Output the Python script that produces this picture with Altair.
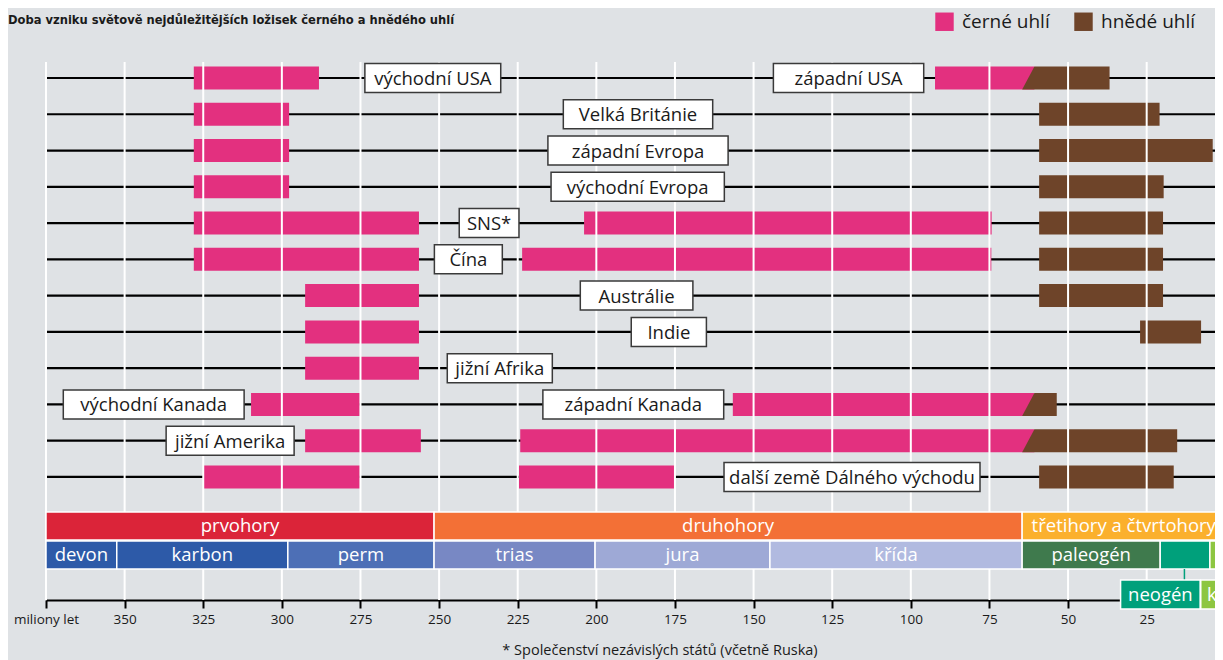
import altair as alt
import pandas as pd

# ---------------- data (millions of years ago) ----------------
rows = ["USA", "Velká Británie", "západní Evropa", "východní Evropa", "SNS*", "Čína",
        "Austrálie", "Indie", "jižní Afrika", "Kanada", "jižní Amerika",
        "další země Dálného východu"]

# černé uhlí (black coal) segments
black_row = [0, 0, 1, 2, 3, 4, 4, 5, 5, 6, 7, 8, 9, 9, 10, 10, 11, 11]
black_start = [328.0, 92.3, 328.0, 328.0, 328.0, 328.0, 203.9, 328.0, 223.6, 292.6,
               292.6, 292.6, 309.8, 156.6, 292.6, 224.2, 324.8, 224.6]
black_end = [288.2, 60.7, 297.7, 297.7, 297.7, 256.4, 74.3, 256.4, 74.4, 256.4,
             256.4, 256.4, 275.2, 60.7, 255.8, 60.7, 275.2, 175.3]

# hnědé uhlí (brown coal) segments
brown_row = [1, 2, 3, 4, 5, 6, 7, 11]
brown_start = [59.2, 59.2, 59.2, 59.2, 59.2, 59.2, 27.1, 59.2]
brown_end = [20.9, 4.0, 19.6, 19.8, 19.8, 19.8, 7.7, 16.4]

# gradual transition black -> brown (slanted edge)
slant_row = [0, 9, 10]
slant_top = [60.7, 60.7, 60.7]
slant_bottom = [64.6, 64.6, 64.6]
slant_end = [36.8, 53.6, 15.3]

# region labels (row, text, box extent in Ma)
label_text = ["východní USA", "západní USA", "Velká Británie", "západní Evropa",
              "východní Evropa", "SNS*", "Čína", "Austrálie", "Indie", "jižní Afrika",
              "východní Kanada", "západní Kanada", "jižní Amerika",
              "další země Dálného východu"]
label_row = [0, 0, 1, 2, 3, 4, 5, 6, 7, 8, 9, 9, 10, 11]
label_from = [273.6, 143.7, 210.5, 215.4, 214.4, 243.6, 251.5, 205.1, 188.9, 247.4,
              369.5, 217.0, 336.8, 159.4]
label_to = [230.4, 95.9, 163.0, 158.1, 159.3, 224.6, 229.9, 169.3, 165.0, 214.0,
            312.0, 159.5, 296.1, 78.0]

# geological eras and periods
era_names = ["prvohory", "druhohory", "třetihory a čtvrtohory"]
era_start = [375.0, 251.6, 64.6]
era_end = [251.6, 64.6, -5.0]

period_names = ["devon", "karbon", "perm", "trias", "jura", "křída", "paleogén",
                "neogén", "kvartér"]
period_start = [375.0, 352.5, 298.1, 251.6, 200.4, 144.8, 64.6, 20.7, 4.9]
period_end = [352.5, 298.1, 251.6, 200.4, 144.8, 64.6, 20.7, 4.9, -5.0]

tick_values = [375, 350, 325, 300, 275, 250, 225, 200, 175, 150, 125, 100, 75, 50, 25, 0]

coal_types = ["černé uhlí", "hnědé uhlí"]
subtitle = "Doba vzniku světově nejdůležitějších ložisek černého a hnědého uhlí"
footnote = "* Společenství nezávislých států (včetně Ruska)"

# ---------------- styles ----------------
PINK, BROWN = "#E3307F", "#6E4429"
era_colors = ["#DB2439", "#F37036", "#FBB02D"]
period_colors = ["#2D5AA8", "#2D5AA8", "#4D6FB6", "#7888C4", "#9EA9D6", "#B1BAE0",
                 "#3F7A4D", "#00A07B", "#8DC641"]
BG = "#DFE2E5"
FONT = "Open Sans"
TXT = "#1a1a1a"
LABEL_SIZE = 18.5

# layout in "row units" (1 row = 36.27 px)
ROW_PX = 36.27
PLOT_W, PLOT_H = 1169, 562
Y_TOP = -40 / ROW_PX
Y_BOT = 522 / ROW_PX
GRID_TOP = -16 / ROW_PX
BAR_HALF = 11.5 / ROW_PX
BOX_HALF = 14.5 / ROW_PX
ERA_Y = (434 / ROW_PX, 462 / ROW_PX)
PER_Y = (463 / ROW_PX, 491 / ROW_PX)
SUB_Y = (502 / ROW_PX, 531 / ROW_PX)

X = alt.Scale(domain=[375, 0], range=[0, 1179.3], nice=False, zero=False)
Y = alt.Scale(domain=[Y_TOP, Y_BOT], reverse=True, nice=False, zero=False)
AX = alt.Axis(values=tick_values, title=None, grid=False,
              labelExpr="datum.value == 375 ? 'miliony let' : datum.label",
              domainColor="black", domainWidth=2, tickColor="black", tickWidth=2,
              tickSize=8, labelFontSize=13.5, labelFont=FONT, labelColor=TXT,
              labelPadding=4, labelFlush=False, labelOverlap=False)

# ---------------- tables ----------------
bars = pd.DataFrame({
    "row": black_row + brown_row,
    "start": black_start + brown_start,
    "end": black_end + brown_end,
    "typ": [coal_types[0]] * len(black_row) + [coal_types[1]] * len(brown_row),
})
bars["y0"] = bars["row"] - BAR_HALF
bars["y1"] = bars["row"] + BAR_HALF

# brown trapezoids for the slanted transitions (vertical area: x dimension, y..y2 extent)
area_recs = []
for r, t, b, e in zip(slant_row, slant_top, slant_bottom, slant_end):
    bot = r + BAR_HALF
    top = r - BAR_HALF
    area_recs.append({"row": r, "x": b, "y": bot, "y2": bot, "typ": coal_types[1]})
    area_recs.append({"row": r, "x": t, "y": top, "y2": bot, "typ": coal_types[1]})
    area_recs.append({"row": r, "x": e, "y": top, "y2": bot, "typ": coal_types[1]})
area_df = pd.DataFrame(area_recs)

rowlines = pd.DataFrame({"row": list(range(len(rows))), "x": 375, "x2": 0})
grid = pd.DataFrame({"x": tick_values, "y0": GRID_TOP, "y1": Y_BOT})

labels = pd.DataFrame({"text": label_text, "row": label_row, "a": label_from, "b": label_to})
labels["mid"] = (labels["a"] + labels["b"]) / 2
labels["y0"] = labels["row"] - BOX_HALF
labels["y1"] = labels["row"] + BOX_HALF

eras = pd.DataFrame({"name": era_names, "a": era_start, "b": era_end, "col": era_colors})
eras["mid"] = (eras["a"] + eras["b"].clip(lower=0)) / 2
eras["y0"], eras["y1"], eras["yc"] = ERA_Y[0], ERA_Y[1], sum(ERA_Y) / 2

periods = pd.DataFrame({"name": period_names, "a": period_start, "b": period_end,
                        "col": period_colors})
periods["mid"] = (periods["a"] + periods["b"]) / 2
periods["y0"], periods["y1"], periods["yc"] = PER_Y[0], PER_Y[1], sum(PER_Y) / 2
in_band = periods[~periods["name"].isin(["neogén", "kvartér"])]

# short periods are labelled in boxes below the band
small = pd.DataFrame({
    "name": ["neogén", "kvartér"],
    "a": [33.3, 7.8], "b": [8.0, -12.0],
    "conn": [13.0, 2.7],
    "tx": [20.65, 5.8],
    "col": ["#00A07B", "#8DC641"],
    "align": ["center", "left"],
})
small["y0"], small["y1"], small["yc"] = SUB_Y[0], SUB_Y[1], sum(SUB_Y) / 2
small["c0"], small["c1"] = PER_Y[1], SUB_Y[0]

# ---------------- layers ----------------
bx = dict(scale=X, axis=AX)
YA = dict(scale=Y, axis=None)
coal_scale = alt.Scale(domain=coal_types, range=[PINK, BROWN])

l_rowlines = alt.Chart(rowlines).mark_rule(color="black", strokeWidth=2.2).encode(
    x=alt.X("x:Q", **bx), x2="x2:Q", y=alt.Y("row:Q", **YA))

l_bars = alt.Chart(bars).mark_rect(opacity=1).encode(
    x=alt.X("start:Q", **bx), x2="end:Q",
    y=alt.Y("y0:Q", **YA), y2="y1:Q",
    color=alt.Color("typ:N", scale=coal_scale,
                    legend=alt.Legend(title=None, orient="none", legendX=889, legendY=-26,
                                      direction="horizontal", symbolType="square",
                                      symbolSize=340, symbolStrokeWidth=0, symbolOpacity=1,
                                      labelFontSize=19, labelFont=FONT, labelColor=TXT,
                                      labelOffset=8, columnPadding=24, padding=0)))

l_area = alt.Chart(area_df).mark_area(opacity=1, interpolate="linear").encode(
    x=alt.X("x:Q", **bx),
    y=alt.Y("y:Q", **YA), y2="y2:Q",
    detail="row:N",
    color=alt.Color("typ:N", scale=coal_scale, legend=None))

l_grid = alt.Chart(grid).mark_rule(color="white", strokeWidth=2).encode(
    x=alt.X("x:Q", **bx), y=alt.Y("y0:Q", **YA), y2="y1:Q")

l_eras = alt.Chart(eras).mark_rect(stroke="white", strokeWidth=1.5).encode(
    x=alt.X("a:Q", **bx), x2="b:Q", y=alt.Y("y0:Q", **YA), y2="y1:Q",
    fill=alt.Fill("col:N", scale=None))

l_periods = alt.Chart(periods).mark_rect(stroke="white", strokeWidth=1.5).encode(
    x=alt.X("a:Q", **bx), x2="b:Q", y=alt.Y("y0:Q", **YA), y2="y1:Q",
    fill=alt.Fill("col:N", scale=None))

l_conn = alt.Chart(small).mark_rule(strokeWidth=1.5).encode(
    x=alt.X("conn:Q", **bx), y=alt.Y("c0:Q", **YA), y2="c1:Q",
    stroke=alt.Stroke("col:N", scale=None))

l_small = alt.Chart(small).mark_rect(stroke="white", strokeWidth=1.5).encode(
    x=alt.X("a:Q", **bx), x2="b:Q", y=alt.Y("y0:Q", **YA), y2="y1:Q",
    fill=alt.Fill("col:N", scale=None))

band_txt = dict(color="white", font=FONT, fontSize=LABEL_SIZE, baseline="middle")
l_era_txt = alt.Chart(eras).mark_text(align="center", **band_txt).encode(
    x=alt.X("mid:Q", **bx), y=alt.Y("yc:Q", **YA), text="name:N")
l_per_txt = alt.Chart(in_band).mark_text(align="center", **band_txt).encode(
    x=alt.X("mid:Q", **bx), y=alt.Y("yc:Q", **YA), text="name:N")
l_small_c = alt.Chart(small[small["align"] == "center"]).mark_text(
    align="center", **band_txt).encode(
    x=alt.X("tx:Q", **bx), y=alt.Y("yc:Q", **YA), text="name:N")
l_small_l = alt.Chart(small[small["align"] == "left"]).mark_text(
    align="left", **band_txt).encode(
    x=alt.X("tx:Q", **bx), y=alt.Y("yc:Q", **YA), text="name:N")

l_boxes = alt.Chart(labels).mark_rect(fill="white", stroke="#3a3a3a", strokeWidth=1.5).encode(
    x=alt.X("a:Q", **bx), x2="b:Q", y=alt.Y("y0:Q", **YA), y2="y1:Q")
l_box_txt = alt.Chart(labels).mark_text(font=FONT, fontSize=LABEL_SIZE, color=TXT,
                                        align="center", baseline="middle", dy=1).encode(
    x=alt.X("mid:Q", **bx), y=alt.Y("row:Q", **YA), text="text:N")

l_sub = alt.Chart(pd.DataFrame({"t": [subtitle]})).mark_text(
    font="DejaVu Sans Condensed, Liberation Sans Narrow, sans-serif",
    fontWeight="bold", fontSize=12.8, color=TXT, align="left", baseline="middle").encode(
    x=alt.value(-38), y=alt.value(-18), text="t:N")

l_foot = alt.Chart(pd.DataFrame({"t": [footnote]})).mark_text(
    font=FONT, fontSize=14.5, color=TXT, align="center", baseline="middle").encode(
    x=alt.value(614), y=alt.value(613), text="t:N")

chart = alt.layer(
    l_rowlines, l_bars, l_area, l_grid, l_eras, l_periods, l_conn, l_small,
    l_era_txt, l_per_txt, l_small_c, l_small_l, l_boxes, l_box_txt,
    l_sub, l_foot
).properties(
    width=PLOT_W, height=PLOT_H,
    padding={"left": 38, "top": 30, "right": 0, "bottom": 60},
    autosize=alt.AutoSizeParams(type="none"),
    background=BG,
).configure_view(stroke=None)

chart.save("out.html", embed_options={"renderer": "svg", "actions": False})
